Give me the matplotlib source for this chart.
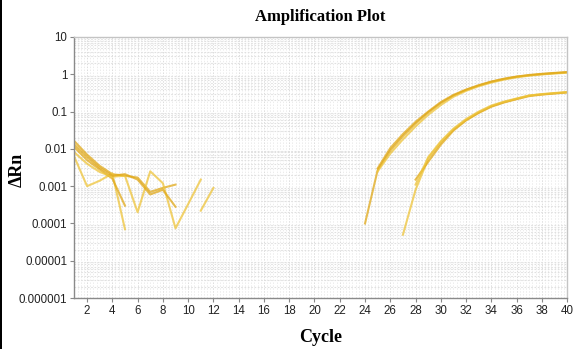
"""
Amplification plot (delta Rn vs cycle) on log scale
"""

# --------------------------------------------------------------------------------
# Library
import numpy as np
import matplotlib
matplotlib.use('Agg')
import matplotlib.pyplot as plt
from matplotlib.ticker import FixedLocator, NullFormatter
# --------------------------------------------------------------------------------

# --------------------------------------------------------------------------------
# Data: baseline noise (cycles 1-12), NaN where the trace is not drawn
a1iCycleBase = np.arange(1, 13)
a1dBase1 = [0.016, 0.007, 0.0035, 0.0021, 0.0019, 0.0017, 0.0007, 0.0009, 0.0011,
            np.nan, np.nan, np.nan]
a1dBase2 = [0.006, 0.001, 0.0014, 0.0022, 0.00007, np.nan, np.nan, np.nan, np.nan,
            np.nan, np.nan, np.nan]
a1dBase3 = [0.011, 0.005, 0.0028, 0.0016, 0.0003, np.nan, np.nan, np.nan, np.nan,
            np.nan, np.nan, np.nan]
a1dBase4 = [0.008, 0.004, 0.0024, 0.0018, 0.0019, 0.0002, 0.0025, 0.0012, 0.000074,
            0.00033, 0.0015, np.nan]
a1dBase5 = [0.013, 0.006, 0.0031, 0.0019, 0.0021, 0.0015, 0.0006, 0.0008, 0.00028,
            np.nan, np.nan, np.nan]
a1dBase6 = [np.nan, np.nan, np.nan, np.nan, np.nan, np.nan, np.nan, np.nan, np.nan,
            np.nan, 0.00022, 0.0009]

# Data: amplification curves, group A (cycles 24-40)
a1iCycleA = np.arange(24, 41)
a1dAmpA1 = [0.0001, 0.0027, 0.009, 0.022, 0.048, 0.095, 0.17, 0.27, 0.38, 0.5,
            0.63, 0.75, 0.86, 0.94, 1.01, 1.07, 1.13]
a1dAmpA2 = [np.nan, 0.0025, 0.0075, 0.018, 0.04, 0.082, 0.15, 0.25, 0.36, 0.48,
            0.6, 0.72, 0.83, 0.92, 0.99, 1.05, 1.1]
a1dAmpA3 = [np.nan, 0.003, 0.0105, 0.025, 0.053, 0.1, 0.18, 0.28, 0.39, 0.51,
            0.64, 0.76, 0.87, 0.96, 1.03, 1.09, 1.15]

# Data: amplification curves, group B (cycles 27-40)
a1iCycleB = np.arange(27, 41)
a1dAmpB1 = [0.00005, 0.0008, 0.0055, 0.015, 0.033, 0.06, 0.095, 0.14, 0.18,
            0.22, 0.27, 0.29, 0.31, 0.33]
a1dAmpB2 = [np.nan, 0.0015, 0.0045, 0.013, 0.031, 0.058, 0.092, 0.135, 0.175,
            0.215, 0.26, 0.285, 0.305, 0.325]
a1dAmpB3 = [np.nan, 0.0011, 0.006, 0.016, 0.035, 0.063, 0.1, 0.145, 0.185,
            0.225, 0.27, 0.295, 0.315, 0.335]

# Axis ticks
a1iXTicks = np.arange(2, 41, 2)
a1dYTicks = [1e-6, 1e-5, 1e-4, 1e-3, 1e-2, 1e-1, 1, 10]
a1sYTickLabels = ['0.000001', '0.00001', '0.0001', '0.001', '0.01', '0.1', '1', '10']
# --------------------------------------------------------------------------------

# --------------------------------------------------------------------------------
# Figure
oFig = plt.figure(figsize=(5.77, 3.49), dpi=100)
oAx = oFig.add_axes([0.129, 0.146, 0.854, 0.748])

sLineColor1 = '#e0a818'
sLineColor2 = '#eec43a'

for a1dBase, sColor in zip([a1dBase1, a1dBase2, a1dBase3, a1dBase4, a1dBase5, a1dBase6],
                           [sLineColor1, sLineColor2, sLineColor1, sLineColor2,
                            sLineColor1, sLineColor2]):
    oAx.plot(a1iCycleBase, a1dBase, color=sColor, lw=1.5, alpha=0.75)

for a1dAmp, sColor in zip([a1dAmpA1, a1dAmpA2, a1dAmpA3], [sLineColor1, sLineColor2, sLineColor1]):
    oAx.plot(a1iCycleA, a1dAmp, color=sColor, lw=1.5, alpha=0.75)

for a1dAmp, sColor in zip([a1dAmpB1, a1dAmpB2, a1dAmpB3], [sLineColor2, sLineColor1, sLineColor2]):
    oAx.plot(a1iCycleB, a1dAmp, color=sColor, lw=1.5, alpha=0.75)
# --------------------------------------------------------------------------------

# --------------------------------------------------------------------------------
# Axes
oAx.set_yscale('log')
oAx.set_xlim(1, 40)
oAx.set_ylim(1e-6, 10)

oAx.set_xticks(a1iXTicks)
oAx.set_xticklabels([str(i) for i in a1iXTicks])
oAx.set_yticks(a1dYTicks)
oAx.set_yticklabels(a1sYTickLabels)
oAx.yaxis.set_minor_locator(FixedLocator(
    [m * 10.0 ** e for e in range(-6, 1) for m in range(2, 10)]))
oAx.yaxis.set_minor_formatter(NullFormatter())
oAx.xaxis.set_minor_locator(FixedLocator(np.arange(1, 40.01, 0.25)))

oAx.tick_params(axis='both', which='major', labelsize=8.3, length=3, width=0.8,
                color='#888888', labelcolor='#222222', pad=2)
oAx.tick_params(axis='both', which='minor', length=0)
for oLabel in oAx.get_xticklabels() + oAx.get_yticklabels():
    oLabel.set_fontfamily('Liberation Sans')

# Grid
oAx.grid(True, which='minor', axis='y', color='#e0e0e0', lw=0.8, ls=(0, (1.5, 1.5)))
oAx.grid(True, which='major', axis='y', color='#ffffff', lw=0.0)
oAx.grid(True, which='minor', axis='x', color='#ececec', lw=0.7, ls=(0, (1.5, 1.5)))
oAx.grid(True, which='major', axis='x', color='#dcdcdc', lw=0.7, ls=(0, (1.5, 1.5)))
oAx.set_axisbelow(True)

for sSide in ['left', 'bottom']:
    oAx.spines[sSide].set_color('#8a8a8a')
    oAx.spines[sSide].set_linewidth(1.0)
for sSide in ['top', 'right']:
    oAx.spines[sSide].set_color('#c4c4c4')
    oAx.spines[sSide].set_linewidth(1.0)

# Labels
oFig.text(0.555, 0.951, 'Amplification Plot', ha='center', va='center',
          fontfamily='Liberation Serif', fontweight='bold', fontsize=12)
oFig.text(0.555, 0.032, 'Cycle', ha='center', va='center',
          fontfamily='Liberation Serif', fontweight='bold', fontsize=13)
oFig.text(0.03, 0.513, '\u0394Rn', ha='center', va='center', rotation=90,
          fontfamily='Liberation Serif', fontweight='bold', fontsize=13)

# Left frame strip
oFig.patches.append(plt.Rectangle((0, 0), 2.0 / 577, 1, transform=oFig.transFigure,
                                  facecolor='black', edgecolor='none'))
# --------------------------------------------------------------------------------

oFig.savefig('out.png', dpi=100)
